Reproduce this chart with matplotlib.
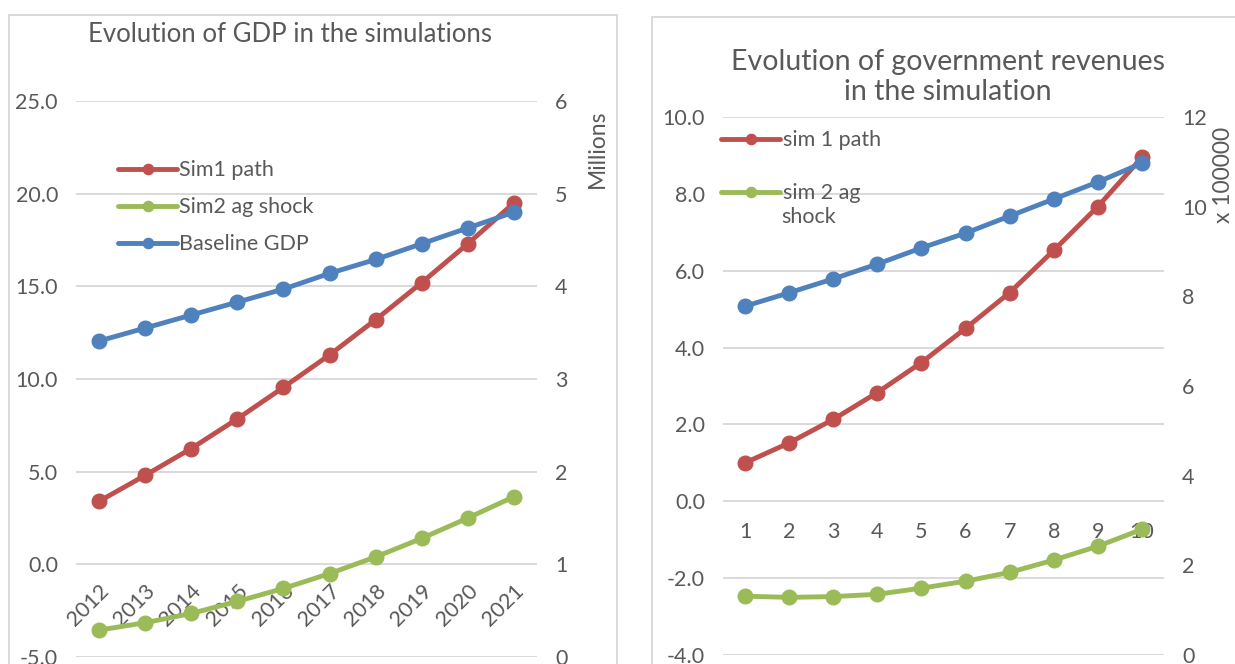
import matplotlib
matplotlib.use("Agg")
import matplotlib.pyplot as plt
from matplotlib.patches import Rectangle

plt.rcParams['font.family'] = ['Lato', 'DejaVu Sans']

TXT = "#595959"
GRID = "#D9D9D9"
RED, GREEN, BLUE = "#C0504D", "#9BBB59", "#4F81BD"

# GDP chart (left axis: sim paths, right axis: baseline in millions)
years = ["2012", "2013", "2014", "2015", "2016", "2017", "2018", "2019", "2020", "2021"]
gdp_sim1 = [3.4, 4.8, 6.25, 7.85, 9.55, 11.3, 13.2, 15.2, 17.3, 19.5]
gdp_sim2 = [-3.55, -3.15, -2.65, -2.0, -1.3, -0.5, 0.4, 1.4, 2.5, 3.65]
gdp_base = [3.41, 3.55, 3.69, 3.83, 3.97, 4.14, 4.29, 4.46, 4.63, 4.80]

# revenue chart (right axis in units of 100000)
periods = ["1", "2", "3", "4", "5", "6", "7", "8", "9", "10"]
rev_sim1 = [1.0, 1.52, 2.13, 2.83, 3.61, 4.5, 5.43, 6.53, 7.67, 8.95]
rev_sim2 = [-2.47, -2.5, -2.48, -2.42, -2.26, -2.08, -1.85, -1.53, -1.17, -0.73]
rev_base = [7.78, 8.08, 8.39, 8.72, 9.08, 9.41, 9.79, 10.17, 10.55, 10.97]

W, H = 1235, 664
FS = 15.5
fig = plt.figure(figsize=(W / 100, H / 100), dpi=100)

line_kw = dict(lw=3.5, marker="o", ms=10.5, solid_capstyle="round")
leg_kw = dict(loc="upper left", frameon=False, borderaxespad=0, borderpad=0,
              handlelength=2.75, handletextpad=0.1, markerscale=0.7,
              fontsize=FS, labelcolor=TXT)


def px_axes(x0, x1, ytop, ybot):
    return fig.add_axes([x0 / W, 1 - ybot / H, (x1 - x0) / W, (ybot - ytop) / H])


def style(ax, ax2, ylim, yticks, y2lim, y2ticks, xpad, xlabels, rot):
    # category axis sits on the zero line
    ax.spines["bottom"].set_position(("data", 0))
    ax.set_ylim(*ylim)
    ax.set_yticks(yticks)
    ax.set_yticklabels([f"{v:.1f}" for v in yticks])
    ax.set_xlim(-0.5, len(xlabels) - 0.5)
    ax.set_xticks(range(len(xlabels)))
    if rot:
        ax.set_xticklabels(xlabels, rotation=45, ha="right", va="top",
                           rotation_mode="anchor")
    else:
        ax.set_xticklabels(xlabels)
    ax.grid(axis="y", color=GRID, lw=1.4)
    ax.set_axisbelow(True)
    for a in (ax, ax2):
        for s in a.spines.values():
            s.set_visible(False)
        a.tick_params(length=0, colors=TXT, labelsize=FS)
    ax.tick_params(axis="y", pad=13)
    ax.tick_params(axis="x", pad=xpad)
    ax2.set_ylim(*y2lim)
    ax2.set_yticks(y2ticks)
    ax2.set_yticklabels([f"{v:d}" for v in y2ticks])
    ax2.tick_params(axis="y", pad=13)
    ax.patch.set_visible(False)


# ---- left: GDP ----
ax = px_axes(76, 537, 101, 657)
ax2 = ax.twinx()
h1, = ax.plot(range(10), gdp_sim1, color=RED, label="Sim1 path", **line_kw)
h2, = ax.plot(range(10), gdp_sim2, color=GREEN, label="Sim2 ag shock", **line_kw)
h3, = ax2.plot(range(10), gdp_base, color=BLUE, label="Baseline GDP", **line_kw)
style(ax, ax2, (-5, 25), [-5, 0, 5, 10, 15, 20, 25], (0, 6), range(0, 7),
      12, years, True)
ax2.set_ylabel("Millions", color=TXT, fontsize=FS + 1)
ax2.yaxis.set_label_coords(1.108, 0.915)
ax2.legend([h1, h2, h3], [h.get_label() for h in (h1, h2, h3)],
           bbox_to_anchor=(0.091, 0.893), labelspacing=0.78, **leg_kw)
fig.text(290 / W, 1 - 35 / H, "Evolution of GDP in the simulations",
         ha="center", va="center", fontsize=18.5, color=TXT)

# ---- right: government revenues ----
bx = px_axes(723, 1164, 117, 655)
bx2 = bx.twinx()
g1, = bx.plot(range(10), rev_sim1, color=RED, **line_kw)
g2, = bx.plot(range(10), rev_sim2, color=GREEN, **line_kw)
bx2.plot(range(10), rev_base, color=BLUE, **line_kw)
style(bx, bx2, (-4, 10), [-4, -2, 0, 2, 4, 6, 8, 10], (0, 12), range(0, 13, 2),
      15, periods, False)
bx2.set_ylabel("x 100000", color=TXT, fontsize=FS + 1)
bx2.yaxis.set_label_coords(1.111, 0.892)
bx2.legend([g1, g2], ["sim 1 path", "sim 2 ag"],
           bbox_to_anchor=(-0.004, 0.975), labelspacing=1.53, **leg_kw)
# second line of the wrapped legend label
bx2.text(0.1315, 0.814, "shock", transform=bx.transAxes, ha="left", va="center",
         fontsize=FS, color=TXT)
fig.text(948 / W, 1 - 77 / H, "Evolution of government revenues\nin the simulation",
         ha="center", va="center", fontsize=20.5, color=TXT, linespacing=1.15)

# chart frames
fig.add_artist(Rectangle((9 / W, -0.1), (617 - 9) / W, (H - 15) / H + 0.1,
                         transform=fig.transFigure, fill=False, ec=GRID, lw=1.4))
fig.add_artist(Rectangle((652 / W, -0.1), 1.0, (H - 17) / H + 0.1,
                         transform=fig.transFigure, fill=False, ec=GRID, lw=1.4))

fig.savefig("out.png", dpi=100, facecolor="white")
